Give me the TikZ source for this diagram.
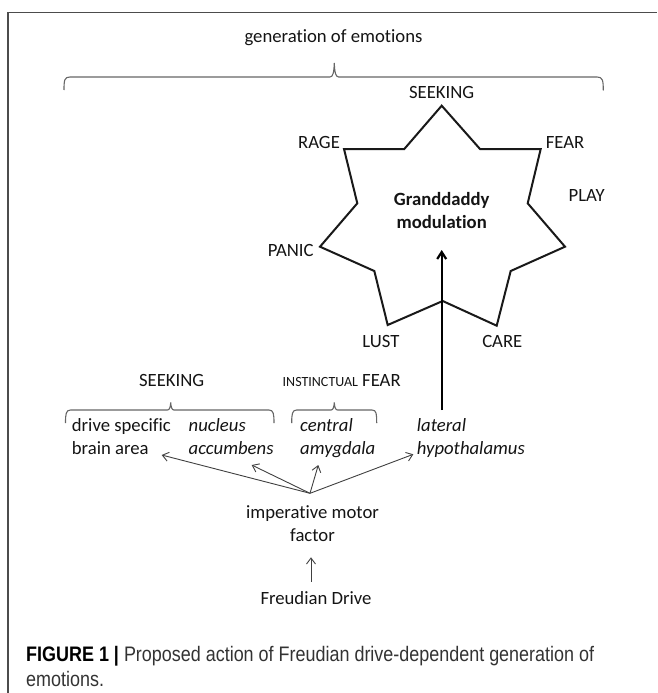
\documentclass[tikz,border=0pt]{standalone}
\usepackage{fontspec}
\setmainfont[Ligatures=NoCommon]{Carlito}
\newfontfamily\capfont[FakeStretch=0.855]{Liberation Sans}
\usetikzlibrary{arrows.meta}
\tikzset{
  lbl/.style={inner sep=0pt, font=\fontsize{18.7}{22.8}\selectfont, text=black!92},
  star/.style={line width=2pt, black!90, line join=miter},
  brc/.style={line width=1.1pt, black!60},
  thinarr/.style={line width=0.9pt, black!75, -{Straight Barb[length=6pt,width=9pt]}},
  bigarr/.style={line width=2.2pt, black, -{Straight Barb[length=7pt,width=9pt]}},
  frame/.style={line width=1.3pt, black!70}
}
\begin{document}
\begin{tikzpicture}[x=1pt,y=-1pt]
\useasboundingbox (0,0) rectangle (657,693);
% frame
\draw[frame] (8,693) -- (8,12.7) -- (657,12.7);
% top title and brace
\node[lbl] (gen) at (333.5,38) {generation of emotions};
\draw[brc] (64,90) .. controls (64,80) and (64.5,77) .. (70,77) -- (330,77)
  .. controls (333,77) and (334,72) .. (334.3,63)
  .. controls (334.6,72) and (335.6,77) .. (338.6,77) -- (597,77)
  .. controls (602.5,77) and (603.3,80) .. (603.3,90.5);
% star
\draw[star] (441.7,105.7) -- (480,149) -- (540.7,149) -- (527.7,203.3) -- (565,246.7)
  -- (510.7,271) -- (496.7,325.7) -- (442.7,301) -- (387.7,325) -- (374.3,271)
  -- (320,246.7) -- (357.3,203.3) -- (344,149) -- (404.3,149) -- cycle;
\node[lbl] (seek) at (441.7,92.3) {SEEKING};
\node[lbl] (rage) at (319,142.3) {RAGE};
\node[lbl] (fear) at (565,142.3) {FEAR};
\node[lbl] (play) at (586.7,195.7) {PLAY};
\node[lbl] (panic) at (290.7,250) {PANIC};
\node[lbl] (lust) at (381,341.7) {LUST};
\node[lbl] (care) at (502.3,341.7) {CARE};
\node[lbl, font=\fontsize{18.7}{22.8}\selectfont\bfseries, align=center] (gm) at (441.7,210.7) {Granddaddy\\modulation};
% lower part
\node[lbl] (seek2) at (171.7,380.7) {SEEKING};
\node[lbl] (ifear) at (341.7,380.7) {{\fontsize{14}{16}\selectfont INSTINCTUAL} FEAR};
\draw[brc] (65.5,423) .. controls (65.5,414) and (66,410) .. (70.5,410) -- (167.5,410)
  .. controls (169.5,410) and (170.5,407) .. (170.7,402.3)
  .. controls (170.9,407) and (171.9,410) .. (173.9,410) -- (269,410)
  .. controls (273.5,410) and (274,414) .. (274,423);
\draw[brc] (291.7,423) .. controls (291.7,414) and (292.2,410) .. (296.7,410) -- (331.1,410)
  .. controls (333.1,410) and (334.1,407) .. (334.3,402.3)
  .. controls (334.5,407) and (335.5,410) .. (337.5,410) -- (372,410)
  .. controls (376.5,410) and (376.7,414) .. (376.7,423);
\node[lbl, anchor=base west, align=left] (drive) at (71.7,454) {drive specific\\brain area};
\node[lbl, anchor=base west, align=left, font=\fontsize{18.7}{22.8}\selectfont\itshape] (nacc) at (188.5,454) {nucleus\\accumbens};
\node[lbl, anchor=base west, align=left, font=\fontsize{18.7}{22.8}\selectfont\itshape] (camy) at (300,454) {central\\amygdala};
\node[lbl, anchor=base west, align=left, font=\fontsize{18.7}{22.8}\selectfont\itshape] (lhyp) at (416.7,454) {lateral\\hypothalamus};
\node[lbl, align=center] (imf) at (312.5,523.5) {imperative motor\\factor};
\node[lbl] (fd) at (316,597.7) {Freudian Drive};
\coordinate (conv) at (310,493.3);
\coordinate (t1) at (161.7,455);
\coordinate (t2) at (251.7,465);
\coordinate (t3) at (318.3,465);
\coordinate (t4) at (413.3,454.3);
\draw[thinarr] (conv) -- (t1);
\draw[thinarr] (conv) -- (t2);
\draw[thinarr] (conv) -- (t3);
\draw[thinarr] (conv) -- (t4);
\coordinate (fdtop) at (311,581.7);
\coordinate (imfbot) at (311,557.3);
\draw[thinarr] (fdtop) -- (imfbot);
\coordinate (bigs) at (441.7,410);
\coordinate (bige) at (441.7,250);
\draw[bigarr] (bigs) -- (bige);
% caption
\node[inner sep=0pt, anchor=base west, align=left,
  font=\capfont\fontsize{21}{25}\selectfont, text=black!80] (cap) at (26,686)
  {{\color{black}\bfseries FIGURE 1 |} Proposed action of Freudian drive-dependent generation of\\emotions.};
\end{tikzpicture}
\end{document}
